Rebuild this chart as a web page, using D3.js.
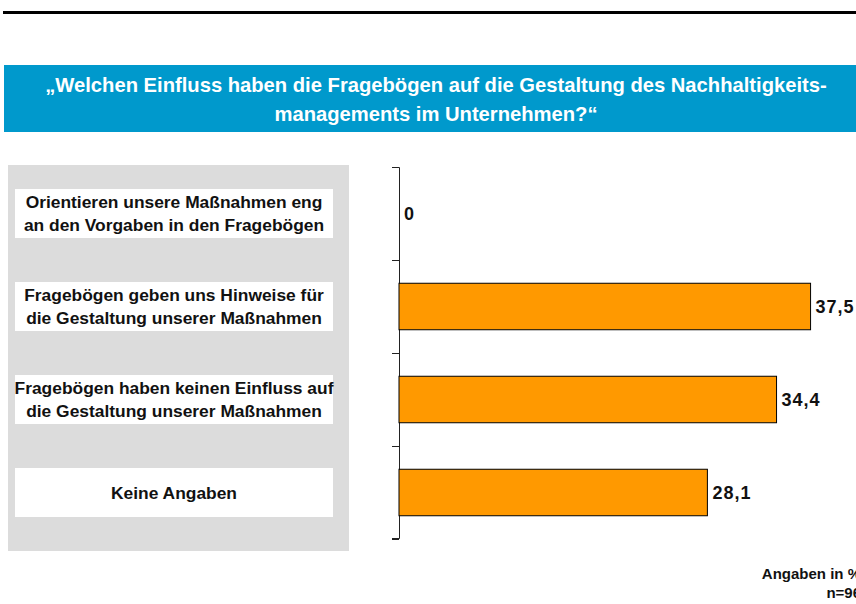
<!DOCTYPE html>
<html>
<head>
<meta charset="utf-8">
<script src="https://cdn.jsdelivr.net/npm/d3@7"></script>
<style>
  html, body { margin: 0; padding: 0; background: #fff; }
  svg { display: block; font-family: Arial, "Liberation Sans", sans-serif; }
</style>
</head>
<body>
<script>
// ** Data
const categories = [
  ["Orientieren unsere Maßnahmen eng", "an den Vorgaben in den Fragebögen"],
  ["Fragebögen geben uns Hinweise für", "die Gestaltung unserer Maßnahmen"],
  ["Fragebögen haben keinen Einfluss auf", "die Gestaltung unserer Maßnahmen"],
  ["Keine Angaben"]
];
const values = [0, 37.5, 34.4, 28.1];
const titleLines = [
  "„Welchen Einfluss haben die Fragebögen auf die Gestaltung des Nachhaltigkeits-",
  "managements im Unternehmen?“"
];
const footLines = ["Angaben in %", "n=96"];

// ** Setup
const width = 856, height = 604;
const svg = d3.select("body").append("svg")
  .attr("width", width)
  .attr("height", height);

// top rule
svg.append("rect")
  .attr("x", 3).attr("y", 11)
  .attr("width", width - 3).attr("height", 3)
  .attr("fill", "#000");

// title banner
svg.append("rect")
  .attr("x", 4).attr("y", 65)
  .attr("width", width - 4).attr("height", 67)
  .attr("fill", "#0099cc");

svg.append("g")
  .selectAll("text")
  .data(titleLines)
  .join("text")
  .attr("x", 436)
  .attr("y", (d, i) => 92 + i * 29)
  .attr("text-anchor", "middle")
  .attr("font-size", 20.2)
  .attr("font-weight", "bold")
  .attr("fill", "#fff")
  .text(d => d);

// ** Scales
const idx = d3.range(categories.length);
const y = d3.scaleBand()
  .domain(idx)
  .range([167, 539])
  .paddingInner(0.5)
  .paddingOuter(0.25);

const x = d3.scaleLinear()
  .domain([0, 40])
  .range([399, 838]);

// ** Category panel
svg.append("rect")
  .attr("x", 8).attr("y", 165)
  .attr("width", 341).attr("height", 386)
  .attr("fill", "#dcdcdc");

const labelH = 49;
const label = svg.append("g")
  .selectAll("g")
  .data(idx)
  .join("g")
  .attr("transform", i => `translate(0,${y(i) + y.bandwidth() / 2})`);

label.append("rect")
  .attr("x", 15)
  .attr("y", -labelH / 2)
  .attr("width", 318)
  .attr("height", labelH)
  .attr("fill", "#fff");

label.append("text")
  .attr("text-anchor", "middle")
  .attr("font-size", 17.4)
  .attr("font-weight", "bold")
  .attr("fill", "#111")
  .selectAll("tspan")
  .data(i => categories[i].map((t, k, arr) => ({ t, k, n: arr.length })))
  .join("tspan")
  .attr("x", 174)
  .attr("y", d => (d.k - (d.n - 1) / 2) * 23.6 + 6)
  .text(d => d.t);

// ** Axis
const yAxisScale = d3.scaleLinear().domain([0, categories.length]).range([167, 539]);
svg.append("g")
  .attr("transform", `translate(${x(0)},0)`)
  .call(d3.axisLeft(yAxisScale).ticks(categories.length).tickSize(7).tickFormat(""))
  .call(g => g.selectAll("path, line").attr("stroke", "#222"))
  .call(g => g.select(".domain").attr("d", "M-7,167.5H0.5V538.5H-7"));

// ** Bars
svg.append("g")
  .selectAll("rect")
  .data(idx.filter(i => values[i] > 0))
  .join("rect")
  .attr("x", x(0))
  .attr("y", i => y(i))
  .attr("width", i => x(values[i]) - x(0))
  .attr("height", y.bandwidth())
  .attr("fill", "#ff9900")
  .attr("stroke", "#000")
  .attr("stroke-width", 1);

// value labels
svg.append("g")
  .selectAll("text")
  .data(idx)
  .join("text")
  .attr("x", i => x(values[i]) + 5)
  .attr("y", i => y(i) + y.bandwidth() / 2 + 6.5)
  .attr("font-size", 18)
  .attr("font-weight", "bold")
  .attr("letter-spacing", 1)
  .attr("fill", "#111")
  .text(i => String(values[i]).replace(".", ","));

// ** Footer (runs off the right edge as in the original)
svg.append("g")
  .selectAll("text")
  .data(footLines)
  .join("text")
  .attr("x", 861)
  .attr("y", (d, i) => 579 + i * 19)
  .attr("text-anchor", "end")
  .attr("font-size", 15)
  .attr("font-weight", "bold")
  .attr("fill", "#111")
  .text(d => d);
</script>
</body>
</html>
